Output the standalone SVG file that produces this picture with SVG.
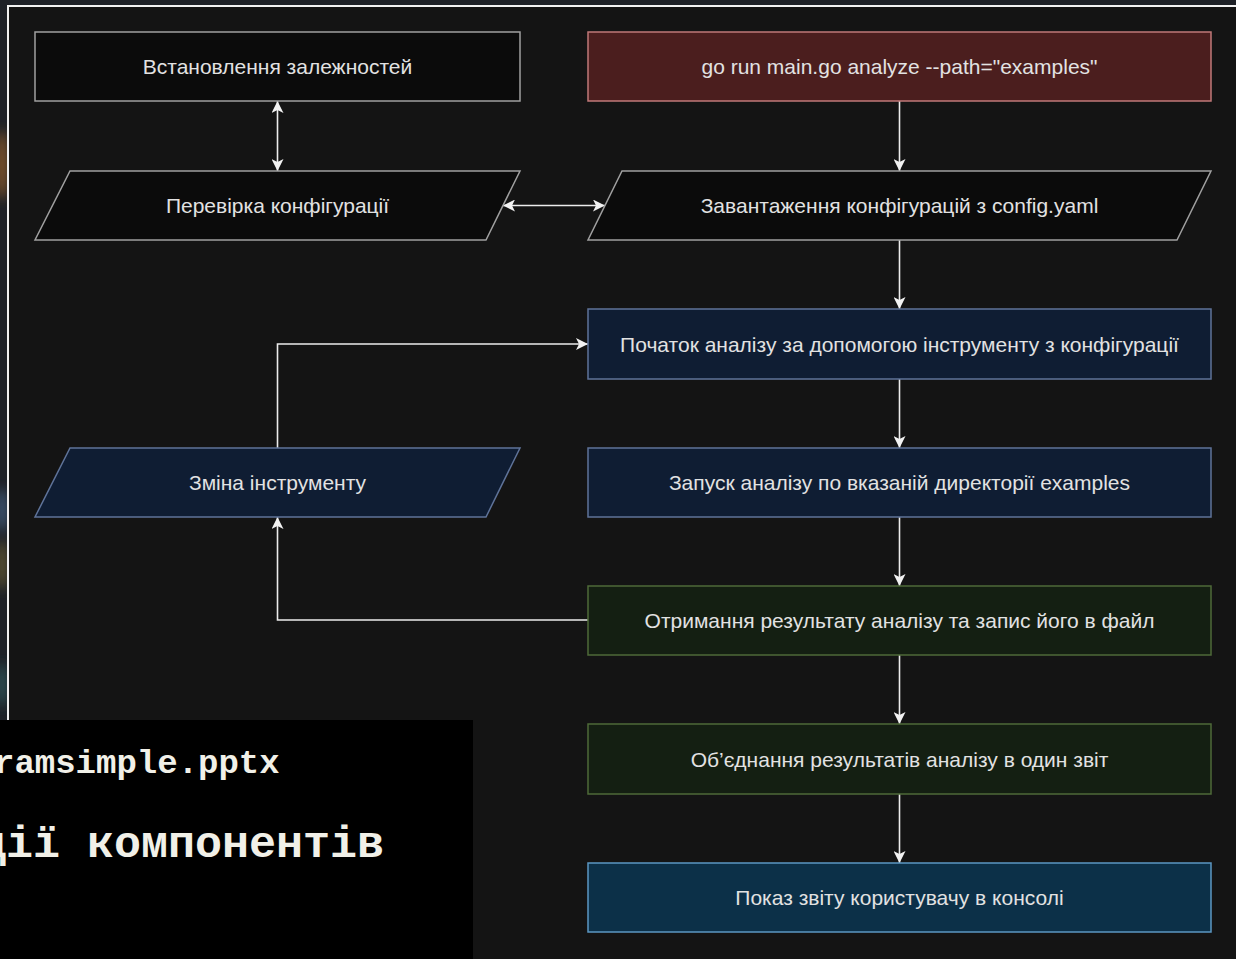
<svg xmlns="http://www.w3.org/2000/svg" width="1236" height="959" viewBox="0 0 1236 959">
  <style>
    .lbl { font-family: "Liberation Sans", Arial, sans-serif; font-size: 21px; fill: #e2e2e2; text-anchor: middle; dominant-baseline: central; }
    .plain { fill: #0b0b0b; stroke: #a0a0a0; stroke-width: 1.5; }
    .red { fill: #4b1e1e; stroke: #c07878; stroke-width: 1.5; }
    .navy { fill: #0f1d33; stroke: #5f7399; stroke-width: 1.5; }
    .green { fill: #141f12; stroke: #4e6a38; stroke-width: 1.5; }
    .teal { fill: #0c3048; stroke: #5b97c2; stroke-width: 1.5; }
    .edge { fill: none; stroke: #ececec; stroke-width: 1.6; }
    .term { font-family: "Liberation Mono", "Courier New", monospace; font-weight: bold; fill: #f1f0e8; }
  </style>
  <defs>
    <marker id="arrow" viewBox="0 0 12 12" refX="12" refY="6" markerWidth="12" markerHeight="12" markerUnits="userSpaceOnUse" orient="auto-start-reverse">
      <path d="M0,0 L12,6 L0,12 L3,6 Z" fill="#f2f2f2"/>
    </marker>
    <filter id="soft" x="-200%" y="-50%" width="500%" height="200%">
      <feGaussianBlur stdDeviation="6"/>
    </filter>
  </defs>

  <!-- backdrop outside the frame -->
  <rect x="0" y="0" width="1236" height="959" fill="#1e2127"/>
  <g filter="url(#soft)">
    <ellipse cx="2" cy="165" rx="6" ry="35" fill="#8a5a2a"/>
    <ellipse cx="2" cy="510" rx="6" ry="22" fill="#3f5a78"/>
    <ellipse cx="2" cy="565" rx="6" ry="25" fill="#5e5530"/>
    <ellipse cx="2" cy="685" rx="6" ry="22" fill="#2f5256"/>
  </g>

  <!-- canvas inside the frame -->
  <rect x="8" y="6" width="1240" height="960" fill="#141414" stroke="#f2f2f2" stroke-width="2"/>

  <!-- connectors -->
  <g id="connectors">
    <path class="edge" d="M277.5,101 V171" marker-start="url(#arrow)" marker-end="url(#arrow)"/>
    <path class="edge" d="M503,205.5 H605" marker-start="url(#arrow)" marker-end="url(#arrow)"/>
    <path class="edge" d="M899.5,101 V171" marker-end="url(#arrow)"/>
    <path class="edge" d="M899.5,240 V309" marker-end="url(#arrow)"/>
    <path class="edge" d="M899.5,379 V448" marker-end="url(#arrow)"/>
    <path class="edge" d="M899.5,517 V586" marker-end="url(#arrow)"/>
    <path class="edge" d="M899.5,655 V724" marker-end="url(#arrow)"/>
    <path class="edge" d="M899.5,794 V863" marker-end="url(#arrow)"/>
    <path class="edge" d="M277.5,448 V344 H588" marker-end="url(#arrow)"/>
    <path class="edge" d="M588,620 H277.5 V517" marker-end="url(#arrow)"/>
  </g>

  <!-- nodes -->
  <g id="install-deps">
    <rect class="plain" x="35" y="32" width="485" height="69"/>
    <text class="lbl" x="277.5" y="66.5">Встановлення залежностей</text>
  </g>
  <g id="check-config">
    <polygon class="plain" points="70,171 520,171 486,240 35,240"/>
    <text class="lbl" x="277.5" y="205.5">Перевірка конфігурації</text>
  </g>
  <g id="run-cmd">
    <rect class="red" x="588" y="32" width="623" height="69"/>
    <text class="lbl" x="899.5" y="66.5" fill="#f0f0f0">go run main.go analyze --path="examples"</text>
  </g>
  <g id="load-config">
    <polygon class="plain" points="622,171 1211,171 1177,240 588,240"/>
    <text class="lbl" x="899.5" y="205.5">Завантаження конфігурацій з config.yaml</text>
  </g>
  <g id="start-analysis">
    <rect class="navy" x="588" y="309" width="623" height="70"/>
    <text class="lbl" x="899.5" y="344">Початок аналізу за допомогою інструменту з конфігурації</text>
  </g>
  <g id="change-tool">
    <polygon class="navy" points="70,448 520,448 486,517 35,517"/>
    <text class="lbl" x="277.5" y="482.5">Зміна інструменту</text>
  </g>
  <g id="run-dir">
    <rect class="navy" x="588" y="448" width="623" height="69"/>
    <text class="lbl" x="899.5" y="482.5">Запуск аналізу по вказаній директорії examples</text>
  </g>
  <g id="get-result">
    <rect class="green" x="588" y="586" width="623" height="69"/>
    <text class="lbl" x="899.5" y="620.5">Отримання результату аналізу та запис його в файл</text>
  </g>
  <g id="merge-report">
    <rect class="green" x="588" y="724" width="623" height="70"/>
    <text class="lbl" x="899.5" y="759">Об’єднання результатів аналізу в один звіт</text>
  </g>
  <g id="show-report">
    <rect class="teal" x="588" y="863" width="623" height="69"/>
    <text class="lbl" x="899.5" y="897.5">Показ звіту користувачу в консолі</text>
  </g>

  <!-- terminal overlay, bottom left -->
  <g id="terminal">
    <rect x="0" y="720" width="473" height="239" fill="#000000"/>
    <text class="term" x="-6" y="773" font-size="34">ramsimple.pptx</text>
    <text class="term" x="-21" y="857" font-size="45">ції компонентів</text>
  </g>
</svg>
